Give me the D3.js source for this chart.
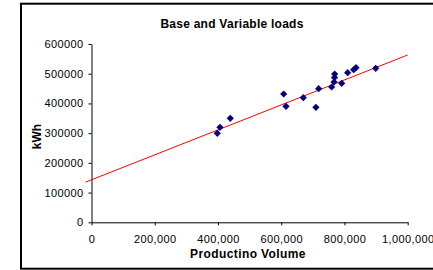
<!DOCTYPE html>
<html><head><meta charset="utf-8">
<script src="https://cdn.jsdelivr.net/npm/d3@7"></script>
<style>
html,body{margin:0;padding:0;background:#fff;}
svg{display:block;font-family:"Liberation Sans",Arial,sans-serif;}
</style></head>
<body>
<svg id="c" width="433" height="270"></svg>
<script>
const title = "Base and Variable loads";
const xTitle = "Productino Volume";
const yTitle = "kWh";
const productionVolume = [397800, 406400, 439000, 607800, 615100, 669800, 709700, 718500, 759600, 767000, 768500, 769100, 791300, 810200, 829200, 836500, 898800];
const kwh = [299500, 319700, 350000, 431700, 390300, 419300, 387000, 449600, 455300, 472100, 487300, 499000, 467700, 503400, 513500, 520200, 518200];
const xTicks = [0, 200000, 400000, 600000, 800000, 1000000];
const yTicks = [0, 100000, 200000, 300000, 400000, 500000, 600000];
const trendIntercept = 143000;
const trendSlope = 0.42;
const trendXRange = [-19000, 1000000];

const svg = d3.select("#c");
// outer frame
svg.append("rect").attr("x", 21).attr("y", 3.7).attr("width", 440).attr("height", 265)
  .attr("fill", "none").attr("stroke", "#000").attr("stroke-width", 2);

const x = d3.scaleLinear().domain([0, 1000000]).range([91.5, 407.7]);
const y = d3.scaleLinear().domain([0, 600000]).range([222.3, 44]);

const xAxis = d3.axisBottom(x).tickValues(xTicks).tickFormat(d3.format(",")).tickSizeInner(3).tickSizeOuter(0).tickPadding(10);
const yAxis = d3.axisLeft(y).tickValues(yTicks).tickFormat(d3.format("d")).tickSizeInner(3).tickSizeOuter(0).tickPadding(5);

const gx = svg.append("g").attr("transform", `translate(0,${y(0)})`).call(xAxis);
const gy = svg.append("g").attr("transform", `translate(${x(0)},0)`).call(yAxis);
[gx, gy].forEach(g => {
  g.select(".domain").attr("stroke", "#000").attr("stroke-width", 1);
  g.selectAll(".tick line").attr("stroke", "#000");
  g.selectAll(".tick text").attr("fill", "#000").attr("font-size", "11px")
    .attr("font-family", "Liberation Sans, Arial, sans-serif").attr("letter-spacing", "0.4px");
});

// trendline
svg.append("line")
  .attr("x1", x(trendXRange[0])).attr("y1", y(trendIntercept + trendSlope * trendXRange[0]))
  .attr("x2", x(trendXRange[1])).attr("y2", y(trendIntercept + trendSlope * trendXRange[1]))
  .attr("stroke", "#ff0000").attr("stroke-width", 1);

// points
const sym = d3.symbol(d3.symbolSquare, 26);
svg.append("g").selectAll("path").data(productionVolume.map((v, i) => [v, kwh[i]]))
  .join("path").attr("d", sym)
  .attr("transform", d => `translate(${x(d[0])},${y(d[1])}) rotate(45)`)
  .attr("fill", "#000080");

// titles
svg.append("text").attr("x", 232).attr("y", 28).attr("text-anchor", "middle")
  .attr("font-size", "12px").attr("font-weight", "bold").attr("letter-spacing", "0.25px").text(title);
svg.append("text").attr("x", 248).attr("y", 258).attr("text-anchor", "middle")
  .attr("font-size", "12px").attr("font-weight", "bold").attr("letter-spacing", "0.4px").text(xTitle);
svg.append("text").attr("transform", "translate(40.5,136.5) rotate(-90)").attr("text-anchor", "middle")
  .attr("font-size", "12px").attr("font-weight", "bold").text(yTitle);
</script>
</body></html>
